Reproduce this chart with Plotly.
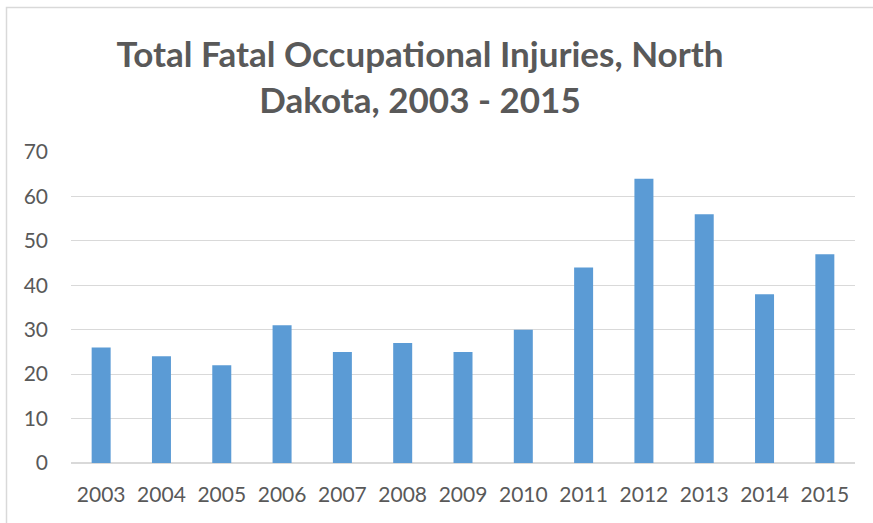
import plotly.graph_objects as go

years = ["2003", "2004", "2005", "2006", "2007", "2008", "2009",
         "2010", "2011", "2012", "2013", "2014", "2015"]
fatalities = [26, 24, 22, 31, 25, 27, 25, 30, 44, 64, 56, 38, 47]
y_ticks = [0, 10, 20, 30, 40, 50, 60, 70]

W, H = 873, 523
L, R, T, B = 71, 18, 152, 60
pw, ph = W - L - R, H - T - B

fig = go.Figure(go.Bar(x=years, y=fatalities, marker_color="#5B9BD5",
                       marker_line_width=0))

font_family = "Lato, 'Open Sans', sans-serif"
text_color = "#595959"

fig.update_layout(
    width=W, height=H,
    margin=dict(l=L, r=R, t=T, b=B, autoexpand=False),
    paper_bgcolor="white", plot_bgcolor="white",
    bargap=0.685,
    showlegend=False,
    font=dict(family=font_family, color=text_color, size=21),
    title=dict(
        text="<b>Total Fatal Occupational Injuries, North<br>Dakota, 2003 - 2015</b>",
        x=420 / W, xanchor="center", xref="container",
        y=1 - 67 / H, yanchor="top", yref="container",
        font=dict(family=font_family, size=35, color=text_color),
    ),
    xaxis=dict(showgrid=False, showline=False, zeroline=False,
               ticks="", tickfont=dict(size=21, color=text_color),
               ticklabelstandoff=17),
    yaxis=dict(range=[0, 70], tickvals=y_ticks, showgrid=True,
               gridcolor="#D9D9D9", gridwidth=1, zeroline=True,
               zerolinecolor="#D9D9D9", zerolinewidth=1.5, showline=False,
               ticks="", tickfont=dict(size=21, color=text_color),
               ticklabelstandoff=22),
)

# Chart border (left and top edges visible in the reference)
bx = (6.5 - L) / pw
by = 1 + (T - 7.5) / ph
fig.add_shape(type="rect", xref="paper", yref="paper",
              x0=bx, x1=1 + (R + 20) / pw, y0=-(B + 20) / ph, y1=by,
              line=dict(color="#D9D9D9", width=1.5), layer="below")

fig.write_html("out.html", config={"displayModeBar": False},
               post_script="document.body.style.margin='0';")
